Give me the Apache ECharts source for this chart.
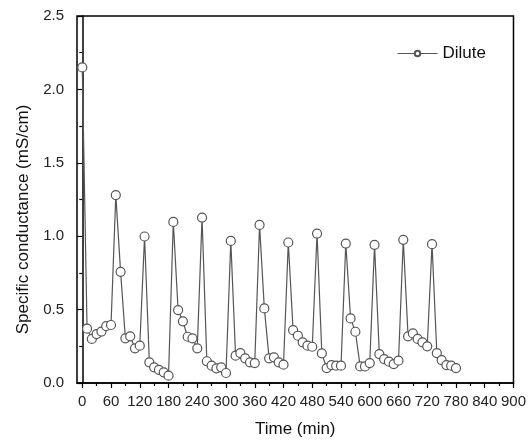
<!DOCTYPE html>
<html>
<head>
<meta charset="utf-8">
<script src="https://cdn.jsdelivr.net/npm/echarts@6/dist/echarts.min.js"></script>
<style>
html,body{margin:0;padding:0;background:#fff;}
#chart{width:529px;height:443px;}
</style>
</head>
<body>
<div id="chart"></div>
<script>
// Data
var seriesName = 'Dilute';
var timeMin = [0,10,20,30,40,50,60,70,80,90,100,110,120,130,140,150,160,170,180,190,
  200,210,220,230,240,250,260,270,280,290,300,310,320,330,340,350,360,370,380,390,
  400,410,420,430,440,450,460,470,480,490,500,510,520,530,540,550,560,570,580,590,
  600,610,620,630,640,650,660,670,680,690,700,710,720,730,740,750,760,770,780];
var dilute = [2.15,0.37,0.30,0.333,0.35,0.388,0.395,1.28,0.757,0.304,0.318,0.236,0.254,0.998,0.141,0.107,0.09,0.073,0.05,1.097,
  0.497,0.42,0.315,0.304,0.236,1.127,0.148,0.118,0.10,0.107,0.068,0.968,0.186,0.204,0.168,0.141,0.136,1.077,0.508,0.168,
  0.175,0.141,0.125,0.957,0.36,0.322,0.277,0.254,0.247,1.018,0.202,0.102,0.122,0.118,0.118,0.95,0.44,0.349,0.113,0.113,
  0.136,0.941,0.197,0.163,0.145,0.129,0.152,0.975,0.318,0.338,0.30,0.277,0.25,0.946,0.204,0.156,0.122,0.118,0.102];
var xMajorTicks = [0,60,120,180,240,300,360,420,480,540,600,660,720,780,840,900];
var xMinorTicks = [30,90,150,210,270,330,390,450,510,570,630,690,750,810,870];

var points = timeMin.map(function(t,i){ return [t, dilute[i]]; });

var chart = echarts.init(document.getElementById('chart'));
var axisColor = '#000';
var font = 'Liberation Sans, Arial, sans-serif';
chart.setOption({
  animation: false,
  backgroundColor: '#fff',
  grid: {left: 77, right: 14, top: 16, bottom: 59, show: true, borderColor: axisColor, borderWidth: 1.5, backgroundColor: 'transparent'},
  legend: {
    left: 392, top: 40, itemWidth: 40, itemHeight: 7,
    textStyle: {fontFamily: font, fontSize: 17, color: '#111'},
    lineStyle: {width: 1},
    data: [seriesName]
  },
  xAxis: [{
    type: 'value', min: -11, max: 900, position: 'bottom',
    name: 'Time (min)', nameLocation: 'middle', nameGap: 38,
    nameTextStyle: {fontFamily: font, fontSize: 17, color: '#111'},
    axisLine: {show: true, lineStyle: {color: axisColor, width: 1.5}},
    axisTick: {show: true, customValues: xMajorTicks, length: 5, lineStyle: {color: axisColor, width: 1.2}},
    axisLabel: {customValues: xMajorTicks, margin: 11, fontFamily: font, fontSize: 15, color: '#222'},
    splitLine: {show: false}
  }, {
    type: 'value', min: -11, max: 900, position: 'bottom',
    axisLine: {show: false},
    axisTick: {show: true, customValues: xMinorTicks, length: 3, lineStyle: {color: axisColor, width: 1.2}},
    axisLabel: {show: false},
    splitLine: {show: false}
  }],
  yAxis: {
    type: 'value', min: 0, max: 2.5, interval: 0.5,
    name: 'Specific conductance (mS/cm)', nameLocation: 'middle', nameGap: 44,
    nameTextStyle: {fontFamily: font, fontSize: 17, color: '#111', padding: [0, 40, 0, 0]},
    axisLine: {show: true, lineStyle: {color: axisColor, width: 1.5}},
    axisTick: {show: true, length: 5, lineStyle: {color: axisColor, width: 1.2}},
    minorTick: {show: true, splitNumber: 2, length: 3, lineStyle: {color: axisColor, width: 1.2}},
    axisLabel: {margin: 13, fontFamily: font, fontSize: 15, color: '#222', formatter: function(v){ return v.toFixed(1); }},
    splitLine: {show: false}
  },
  series: [{
    name: seriesName, type: 'line', xAxisIndex: 0, data: points,
    symbol: 'circle', symbolSize: 9,
    itemStyle: {color: '#fff', borderColor: '#555', borderWidth: 1.2},
    lineStyle: {color: '#555', width: 1.2}
  }]
});
</script>
</body>
</html>
